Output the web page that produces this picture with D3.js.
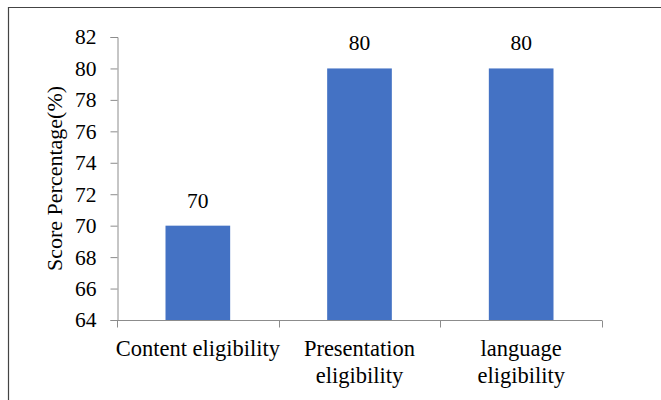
<!DOCTYPE html>
<html lang="en">
<head>
<meta charset="utf-8">
<script src="https://cdn.jsdelivr.net/npm/d3@7"></script>
</head>
<body style="margin:0">
<script type="text/javascript">

// chart data
var categories = ["Content eligibility", "Presentation eligibility", "language eligibility"];
var labelLines = [["Content eligibility"], ["Presentation", "eligibility"], ["language", "eligibility"]];
var scores = [70, 80, 80];
var yTicks = [64, 66, 68, 70, 72, 74, 76, 78, 80, 82];

var width = 661, height = 400;
var margin = {left: 117, right: 59, top: 37, bottom: 80};
var serif = "Liberation Serif";

var svg = d3.select("body").append("svg")
	.attr("width", width)
	.attr("height", height)
	.attr("font-family", serif);

// outer frame (left and top edges visible)
svg.append("path")
	.attr("d", "M8.5,400 L8.5,7.5 L661,7.5")
	.attr("fill", "none")
	.attr("stroke", "#444")
	.attr("stroke-width", 1.2);

var x = d3.scaleBand()
	.domain(categories)
	.range([margin.left, width - margin.right])
	.paddingInner(0.6)
	.paddingOuter(0.3);

var y = d3.scaleLinear()
	.domain([64, 82])
	.range([height - margin.bottom, margin.top]);

var axisColor = "#8c8c8c";

// y axis
var yAxis = svg.append("g")
	.attr("transform", "translate(" + (margin.left + 0.5) + ",0)")
	.call(d3.axisLeft(y).tickValues(yTicks).tickSize(7).tickPadding(14));
yAxis.attr("font-family", serif).attr("font-size", 21.5);
yAxis.select(".domain").attr("stroke", axisColor);
yAxis.selectAll(".tick line").attr("stroke", axisColor);
yAxis.selectAll("text").attr("fill", "#000");

// x axis: ticks at band boundaries
var xBottom = y(64) + 0.5;
svg.append("line")
	.attr("x1", margin.left).attr("x2", width - margin.right)
	.attr("y1", xBottom).attr("y2", xBottom)
	.attr("stroke", axisColor);
var step = x.step();
var bounds = [margin.left].concat(categories.map(function(c) {
	return x(c) + x.bandwidth() + step * x.paddingInner() / 2;
}));
bounds[bounds.length - 1] = width - margin.right;
svg.selectAll(".xtick").data(bounds).enter().append("line")
	.attr("class", "xtick")
	.attr("x1", function(d) { return Math.round(d) + 0.5; })
	.attr("x2", function(d) { return Math.round(d) + 0.5; })
	.attr("y1", xBottom).attr("y2", xBottom + 7)
	.attr("stroke", axisColor);

// bars
svg.selectAll(".bar").data(scores).enter().append("rect")
	.attr("class", "bar")
	.attr("x", function(d, i) { return x(categories[i]); })
	.attr("y", function(d) { return y(d); })
	.attr("width", x.bandwidth())
	.attr("height", function(d) { return y(64) - y(d); })
	.attr("fill", "#4472c4");

// value labels
svg.selectAll(".val").data(scores).enter().append("text")
	.attr("class", "val")
	.attr("x", function(d, i) { return x(categories[i]) + x.bandwidth() / 2; })
	.attr("y", function(d) { return y(d) - 18; })
	.attr("text-anchor", "middle")
	.attr("font-family", serif)
	.attr("font-size", 21.5)
	.text(function(d) { return d; });

// category labels
labelLines.forEach(function(lines, i) {
	var cx = x(categories[i]) + x.bandwidth() / 2;
	lines.forEach(function(l, j) {
		svg.append("text")
			.attr("x", cx)
			.attr("y", 356 + j * 27)
			.attr("text-anchor", "middle")
			.attr("font-family", serif)
			.attr("font-size", 22.5)
			.text(l);
	});
});

// y title
svg.append("text")
	.attr("transform", "translate(62," + ((y(64) + y(82)) / 2) + ") rotate(-90)")
	.attr("text-anchor", "middle")
	.attr("font-family", serif)
	.attr("font-size", 22)
	.text("Score Percentage(%)");

</script>
</body>
</html>
